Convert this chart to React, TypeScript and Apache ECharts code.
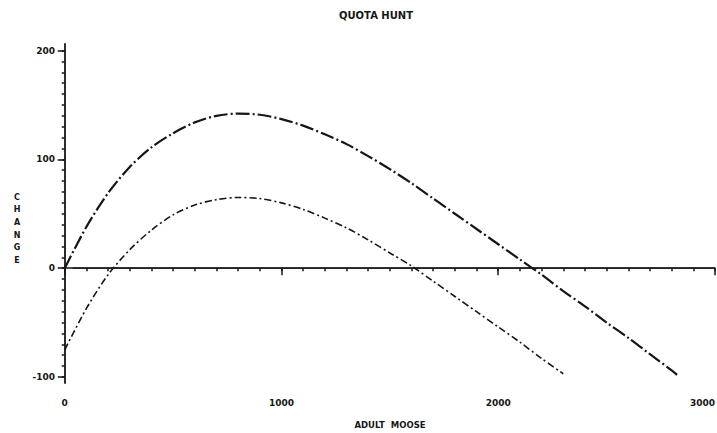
import React, { useEffect, useRef } from "react";
import * as echarts from "echarts";

// Adult moose (x) and change (y)
const upperMoose = [0, 100, 200, 300, 400, 500, 600, 700, 800, 900, 1000, 1100, 1200, 1300, 1400, 1500, 1600, 1700, 1800, 1900, 2000, 2100, 2200, 2300, 2400, 2500, 2600, 2700, 2800, 2825];
const upperChange = [0, 38, 69, 93, 111, 124, 134, 140, 142, 141, 137, 131, 123, 114, 103, 91, 78, 64, 50, 36, 22, 8, -6, -21, -35, -50, -64, -79, -94, -98];

const lowerMoose = [0, 100, 200, 300, 400, 500, 600, 700, 800, 900, 1000, 1100, 1200, 1300, 1400, 1500, 1600, 1700, 1800, 1900, 2000, 2100, 2200, 2300];
const lowerChange = [-75, -37, -6, 17, 35, 49, 58, 63, 65, 64, 60, 54, 46, 37, 26, 14, 2, -12, -26, -40, -54, -68, -83, -97];

const zeroLineX = [36, 3000];
const zeroLineY = [0, 0];

const xMajorTicks = [0, 1000, 2000, 3000];
const yMajorTicks = [-100, 0, 100, 200];

const xMinorTicks: number[] = [];
for (let v = 0; v <= 3000; v += 100) xMinorTicks.push(v);
const yMinorTicks: number[] = [];
for (let v = -100; v <= 200; v += 10) yMinorTicks.push(v);

const zip = (xs: number[], ys: number[]) => xs.map((x, i) => [x, ys[i]]);

const FONT = "DejaVu Sans";
const INK = "#161616";

export default function App() {
  const ref = useRef<HTMLDivElement>(null);
  useEffect(() => {
    if (!ref.current) return;
    const chart = echarts.init(ref.current, null, { renderer: "svg" });
    const xBase = { type: "value", min: -8, max: 3000, position: "bottom", splitLine: { show: false } };
    const yBase = { type: "value", min: -105.5, max: 206, position: "left", splitLine: { show: false } };
    chart.setOption({
      animation: false,
      backgroundColor: "#ffffff",
      grid: { left: 63, right: 2, top: 44, bottom: 50, containLabel: false, outerBoundsMode: "none" },
      xAxis: [
        {
          ...xBase,
          axisLine: { show: true, lineStyle: { color: INK, width: 1.6 } },
          axisTick: { show: true, length: 3, customValues: xMinorTicks, lineStyle: { color: INK, width: 1.5 } },
          axisLabel: { show: false },
        },
        {
          ...xBase,
          axisLine: { show: false },
          axisTick: { show: true, length: 7, customValues: xMajorTicks, lineStyle: { color: INK, width: 1.5 } },
          axisLabel: {
            show: true,
            customValues: xMajorTicks,
            formatter: (v: number) => String(v),
            alignMaxLabel: "right",
            margin: 15,
            color: INK,
            fontFamily: FONT,
            fontWeight: "bold",
            fontSize: 9,
          },
        },
      ],
      yAxis: [
        {
          ...yBase,
          axisLine: { show: true, lineStyle: { color: INK, width: 1.8 } },
          axisTick: { show: true, length: 3, customValues: yMinorTicks, lineStyle: { color: INK, width: 1.5 } },
          axisLabel: { show: false },
        },
        {
          ...yBase,
          axisLine: { show: false },
          axisTick: { show: true, length: 7, customValues: yMajorTicks, lineStyle: { color: INK, width: 1.5 } },
          axisLabel: {
            show: true,
            customValues: yMajorTicks,
            formatter: (v: number) => String(v),
            margin: 8,
            color: INK,
            fontFamily: FONT,
            fontWeight: "bold",
            fontSize: 9,
          },
        },
      ],
      graphic: [
        {
          type: "text",
          x: 376,
          y: 10,
          style: { text: "QUOTA HUNT", fill: INK, font: `bold 10px '${FONT}'`, textAlign: "center", textVerticalAlign: "top" },
        },
        {
          type: "text",
          x: 390,
          y: 420,
          style: { text: "ADULT  MOOSE", fill: INK, font: `bold 8.5px '${FONT}'`, textAlign: "center", textVerticalAlign: "top" },
        },
        {
          type: "text",
          x: 17,
          y: 191,
          style: {
            text: "C\nH\nA\nN\nG\nE",
            fill: INK,
            font: `bold 8px '${FONT}'`,
            lineHeight: 12.6,
            textAlign: "center",
            textVerticalAlign: "top",
          },
        },
      ],
      series: [
        {
          type: "line",
          data: zip(zeroLineX, zeroLineY),
          symbol: "none",
          lineStyle: { color: INK, width: 1.2, type: "solid" },
        },
        {
          type: "line",
          data: zip(upperMoose, upperChange),
          symbol: "none",
          smooth: 0.3,
          lineStyle: { color: INK, width: 2.2, type: [14, 3, 2, 3] },
        },
        {
          type: "line",
          data: zip(lowerMoose, lowerChange),
          symbol: "none",
          smooth: 0.3,
          lineStyle: { color: INK, width: 1.6, type: [7, 3, 2, 3] },
        },
      ],
    });
    return () => chart.dispose();
  }, []);
  return <div ref={ref} style={{ position: "fixed", left: 0, top: 0, width: 717, height: 433 }} />;
}
